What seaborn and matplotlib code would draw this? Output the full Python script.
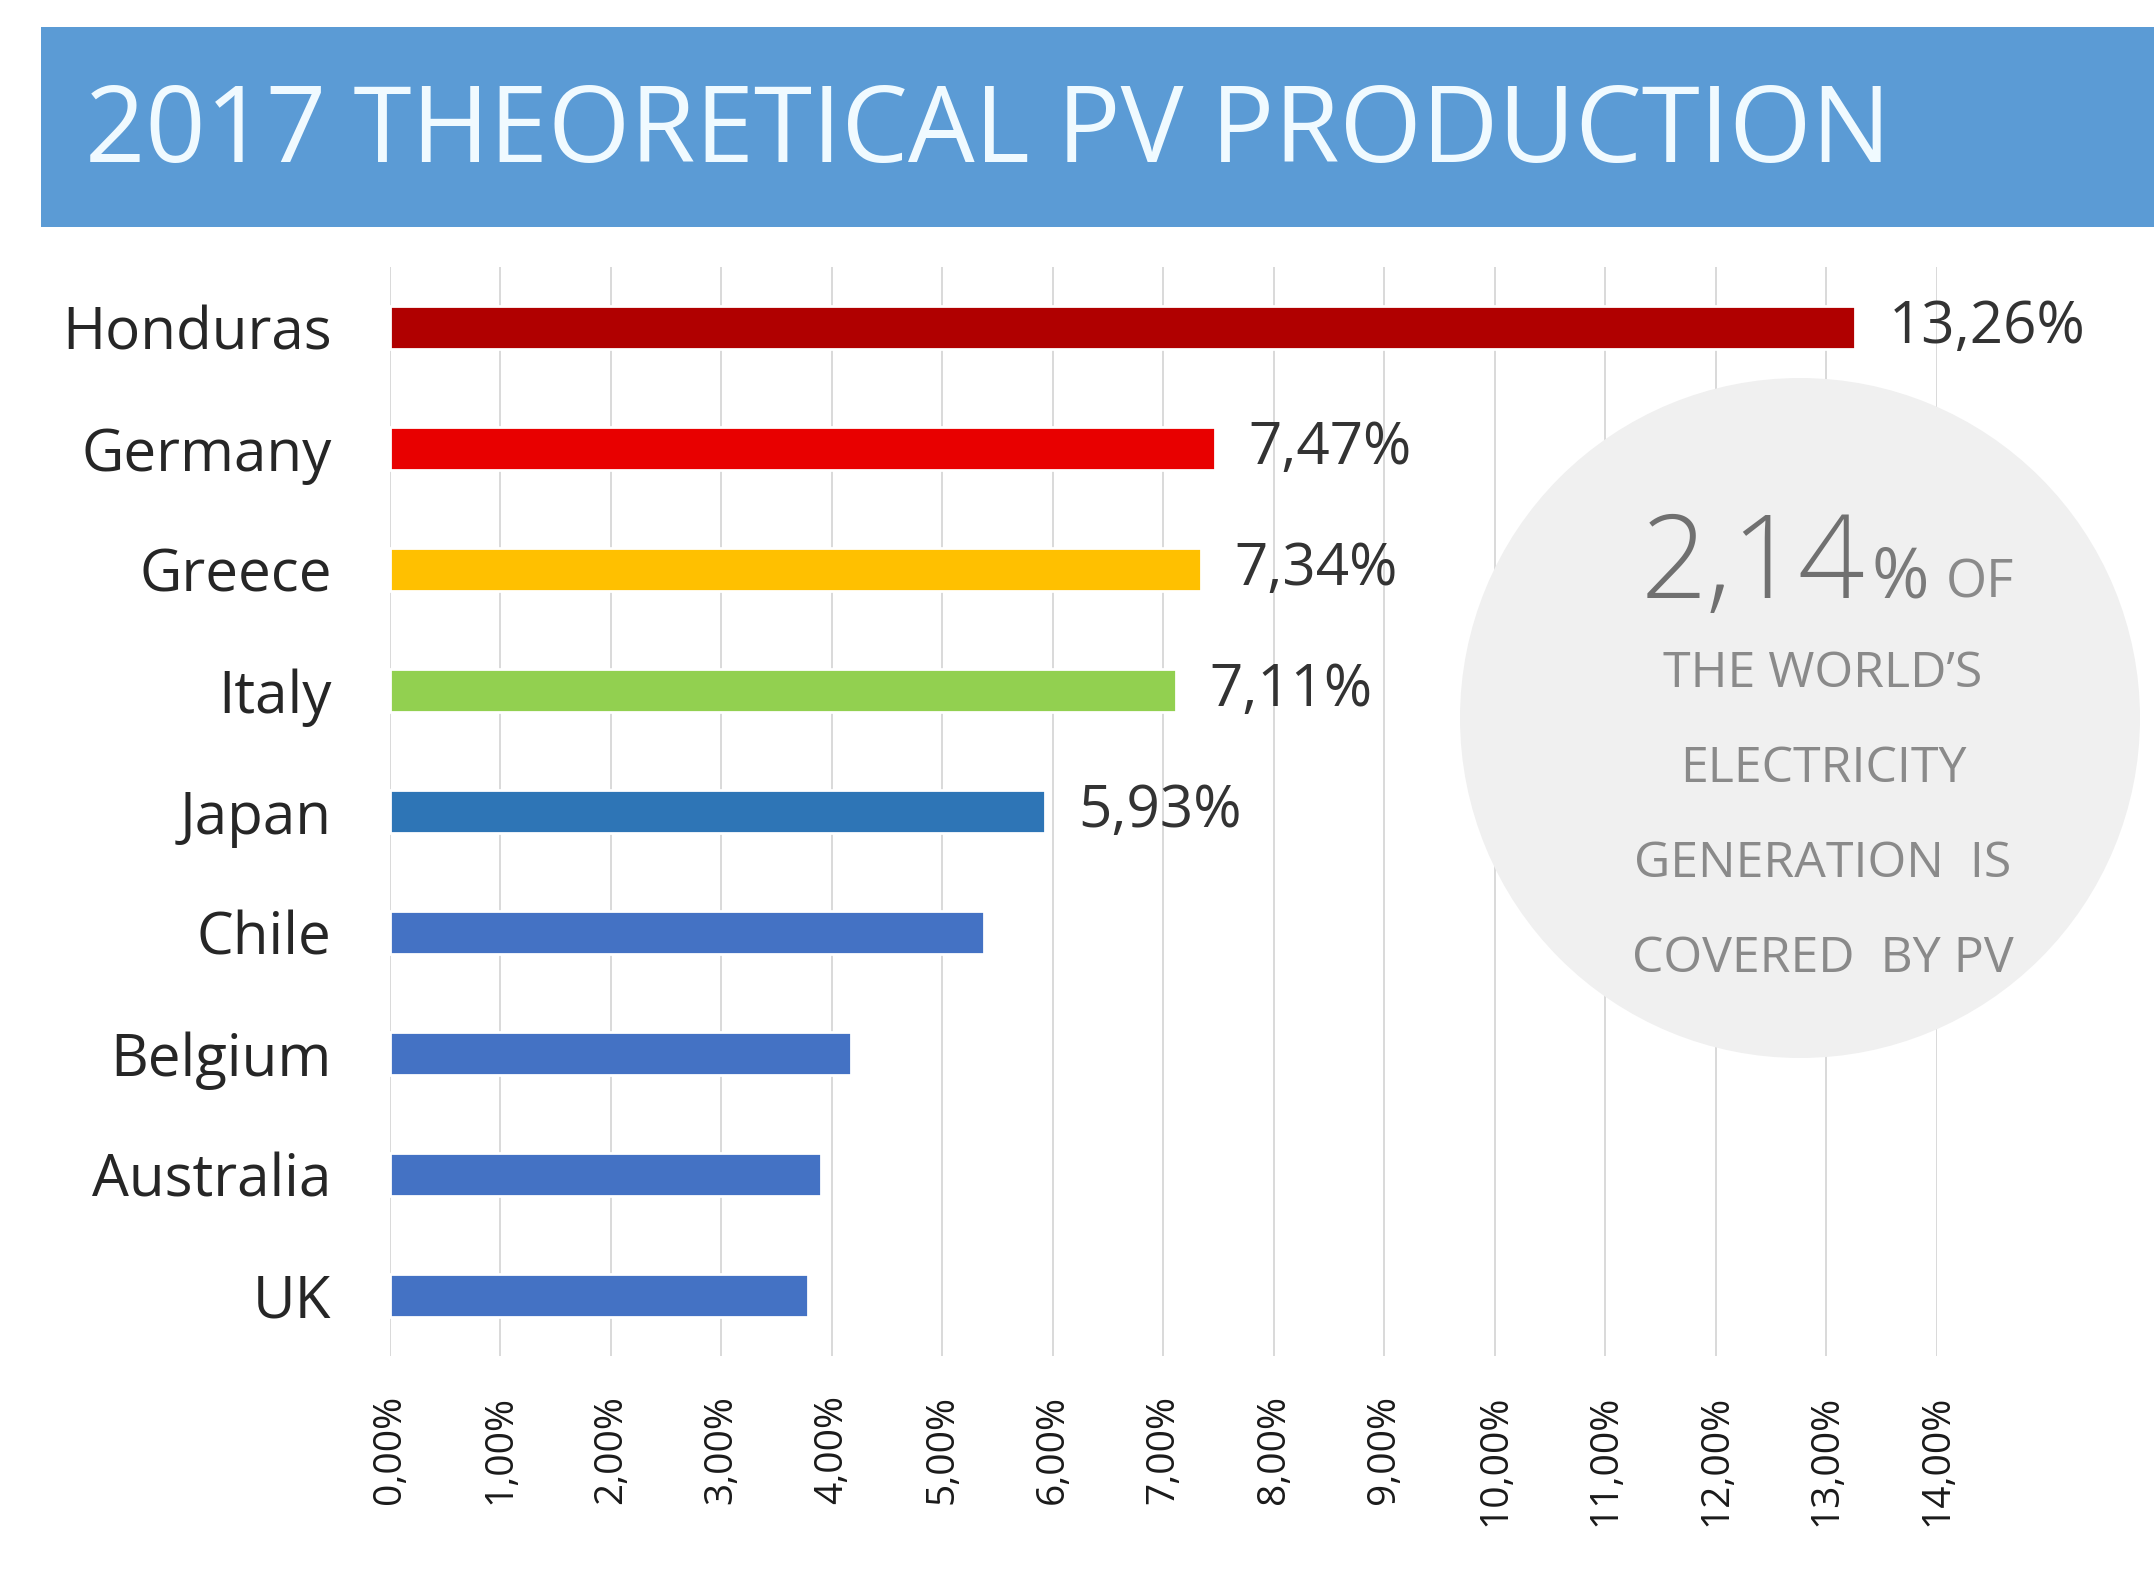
#!/usr/bin/env python
# -*- coding: utf-8 -*-

"""2017 theoretical PV production, share of electricity per country."""

import matplotlib.pyplot as plt
import seaborn as sns
from matplotlib.patches import Rectangle, Ellipse

# %% Data.

countries = ["Honduras", "Germany", "Greece", "Italy", "Japan",
             "Chile", "Belgium", "Australia", "UK"]
pv_share = [13.26, 7.47, 7.34, 7.11, 5.93, 5.38, 4.17, 3.90, 3.78]
value_labels = ["13,26%", "7,47%", "7,34%", "7,11%", "5,93%", "", "", "", ""]
bar_colors = ["#B00000", "#E80000", "#FFC000", "#92D050", "#2E75B6",
              "#4472C4", "#4472C4", "#4472C4", "#4472C4"]
xticks = list(range(0, 15))
xtick_labels = [f"{t},00%" for t in xticks]

world_share = "2,14"
circle_lines = ["THE WORLD\u2019S", "ELECTRICITY", "GENERATION  IS", "COVERED  BY PV"]

# %% Plot.

sns.set_theme(style="white")
plt.rcParams["font.family"] = ["Open Sans", "DejaVu Sans"]

W, H = 2154, 1574
fig = plt.figure(figsize=(W / 200, H / 200), dpi=200)
ax = fig.add_axes([390 / W, 1 - 1356 / H, (1937 - 390) / W, (1356 - 267) / H])

sns.barplot(x=pv_share, y=countries, hue=countries, palette=bar_colors,
            legend=False, orient="h", width=0.35, saturation=1, ax=ax, zorder=3)

for container, lab in zip(ax.containers, value_labels):
    ax.bar_label(container, labels=[lab], padding=12, fontsize=21, color="#333333")

ax.set_xlim(0, 14)
ax.set_xticks(xticks)
ax.set_xticklabels(xtick_labels)
ax.xaxis.grid(True, color="#D9D9D9", linewidth=0.7)
ax.yaxis.grid(False)
ax.set_axisbelow(True)
ax.tick_params(axis="x", length=0, pad=14, labelrotation=90, labelsize=14, labelcolor="#1A1A1A")
ax.tick_params(axis="y", length=0, pad=21, labelsize=21, labelcolor="#262626")
ax.set_xlabel("")
ax.set_ylabel("")
sns.despine(ax=ax, left=True, bottom=True)

# grey disc with the world figure
disc = Ellipse((1800 / W, 1 - 718 / H), 680 / W, 680 / H, transform=fig.transFigure,
               facecolor="#F0F0F0", edgecolor="none", clip_on=False, zorder=2)
ax.add_patch(disc)

base_y = 1 - 598 / H
t_big = fig.text(1641 / W, base_y, world_share, fontsize=42, color="#707070",
                 va="baseline", fontweight="light")
t_pct = ax.annotate("%", xy=(1, base_y), xycoords=(t_big, "figure fraction"),
                    fontsize=25, color="#7A7A7A", va="baseline", ha="left",
                    xytext=(2, 0), textcoords="offset points")
ax.annotate("OF", xy=(1, base_y), xycoords=(t_pct, "figure fraction"),
            fontsize=19, color="#8A8A8A", va="baseline", ha="left",
            xytext=(6, 0), textcoords="offset points")
for i, line in enumerate(circle_lines):
    fig.text(1823 / W, 1 - (674 + 95 * i) / H, line, fontsize=18, color="#8A8A8A",
             ha="center", va="center")

# title banner
fig.add_artist(Rectangle((41 / W, 1 - 227 / H), 1 - 41 / W, 200 / H,
                         transform=fig.transFigure, facecolor="#5B9BD5", edgecolor="none"))
fig.text(85 / W, 1 - 162 / H, "2017 THEORETICAL PV PRODUCTION", fontsize=38,
         color="#F0FAFF", ha="left", va="baseline")

fig.savefig("out.png", dpi=200, facecolor="white")
